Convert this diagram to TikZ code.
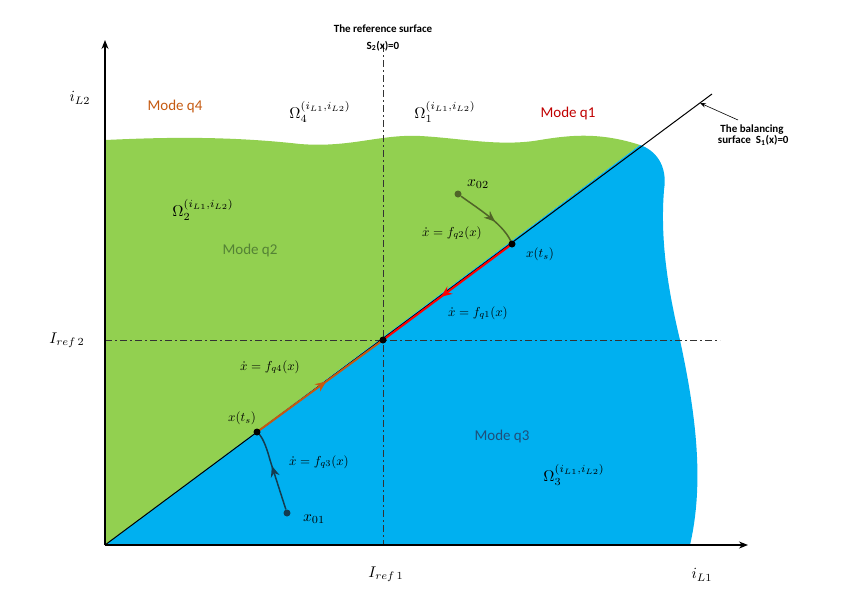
\documentclass[tikz,border=0pt]{standalone}
\usepackage{fontspec}
\newfontfamily\carl{Carlito}
\usetikzlibrary{arrows.meta,decorations.markings}
\definecolor{gr}{RGB}{146,208,80}
\definecolor{bl}{RGB}{0,176,240}
\definecolor{orng}{RGB}{197,90,17}
\definecolor{drk}{RGB}{192,0,0}
\definecolor{olv}{RGB}{84,130,53}
\definecolor{dblu}{RGB}{31,78,121}
\definecolor{trj1}{RGB}{80,100,40}
\definecolor{trj2}{RGB}{20,60,80}
\tikzset{
 dd/.style={dash pattern=on 7pt off 3pt on 2pt off 3pt, line width=1pt, black!80},
 ax/.style={-{Stealth[length=9pt,width=7pt]}, line width=1.2pt},
 mode/.style={font=\carl\fontsize{15}{15}\selectfont},
 mid/.style={postaction={decorate},decoration={markings,mark=at position #1 with {\arrow{Stealth[length=11pt,width=9pt]}}}},
 lab/.style={scale=1.3},
 big/.style={scale=1.55},
 dot/.style={circle,fill,inner sep=0pt,minimum size=7pt}
}
\begin{document}
\begin{tikzpicture}[x=1pt,y=-1pt]
\useasboundingbox (0,0) rectangle (847,595);
\coordinate (O) at (105,545);
\coordinate (C) at (383,340);
\coordinate (T1) at (512,244);
\coordinate (T2) at (257,432);
\coordinate (E) at (712,94);
\fill[gr] (O) -- (105,140) .. controls (150,138) and (220,135) .. (300,144)
 .. controls (350,148) and (380,134) .. (420,136) .. controls (460,138) and (500,147) .. (540,140)
 .. controls (570,135) and (600,132) .. (640,145) -- cycle;
\fill[bl] (O) -- (640,145) .. controls (655,150) and (668,165) .. (664,190)
 .. controls (660,240) and (668,290) .. (680,340) .. controls (695,410) and (705,480) .. (690,545) -- cycle;
\draw[dd] (383,45) -- (383,545);
\draw[dd] (105,340) -- (720,340);
\draw[line width=1pt] (O) -- (E);
\draw[red,line width=2pt,mid=0.55] (T1) -- (C);
\draw[orng,line width=2pt,mid=0.55] (T2) -- (C);
\draw[ax] (O) -- (748,545);
\draw[ax] (O) -- (105,40);
\node[dot,fill=trj1] (x02) at (458,194) {};
\draw[trj1,line width=1.5pt,mid=0.6] (x02) .. controls (480,210) and (505,225) .. (T1);
\node[dot,fill=trj2] (x01) at (287,513) {};
\draw[trj2,line width=1.5pt,mid=0.55] (x01) -- (270,460) .. controls (266,445) and (262,436) .. (T2);
\node[dot] (c) at (C) {};
\node[dot] (t1) at (T1) {};
\node[dot] (t2) at (T2) {};
\node[big] at (478,184) {$x_{02}$};
\node[big] at (314,519) {$x_{01}$};
\node[lab] at (540,254) {$x(t_s)$};
\node[lab] at (242,418) {$x(t_s)$};
\node[lab] at (452,233) {$\dot x=f_{q2}(x)$};
\node[lab] at (478,313) {$\dot x=f_{q1}(x)$};
\node[lab] at (270,367) {$\dot x=f_{q4}(x)$};
\node[lab] at (319,462) {$\dot x=f_{q3}(x)$};
\node[big] at (80,98) {$i_{L2}$};
\node[big] at (702,575) {$i_{L1}$};
\node[big] at (67,340) {$I_{ref\,2}$};
\node[big] at (386,574) {$I_{ref\,1}$};
\node[big] at (320,112) {$\Omega_4^{(i_{L1},i_{L2})}$};
\node[big] at (445,112) {$\Omega_1^{(i_{L1},i_{L2})}$};
\node[big] at (203,210) {$\Omega_2^{(i_{L1},i_{L2})}$};
\node[big] at (574,475) {$\Omega_3^{(i_{L1},i_{L2})}$};
\node[mode,orng] at (175,106) {Mode q4};
\node[mode,drk] at (568,113) {Mode q1};
\node[mode,olv] at (250,250) {Mode q2};
\node[mode,dblu] at (502,436) {Mode q3};
\node[font=\carl\bfseries\fontsize{11}{11}\selectfont] at (383,29) {The reference surface};
\node[font=\carl\bfseries\fontsize{11}{11}\selectfont] at (383,46) {S\textsubscript{2}(x)=0};
\node[font=\carl\bfseries\fontsize{11}{11}\selectfont,align=center] (bs) at (752,135) {The balancing\\ \ surface\ \ S\textsubscript{1}(x)=0};
\draw[-{Stealth[length=6pt]},line width=0.6pt] (738,120) -- (700,103);
\end{tikzpicture}
\end{document}
